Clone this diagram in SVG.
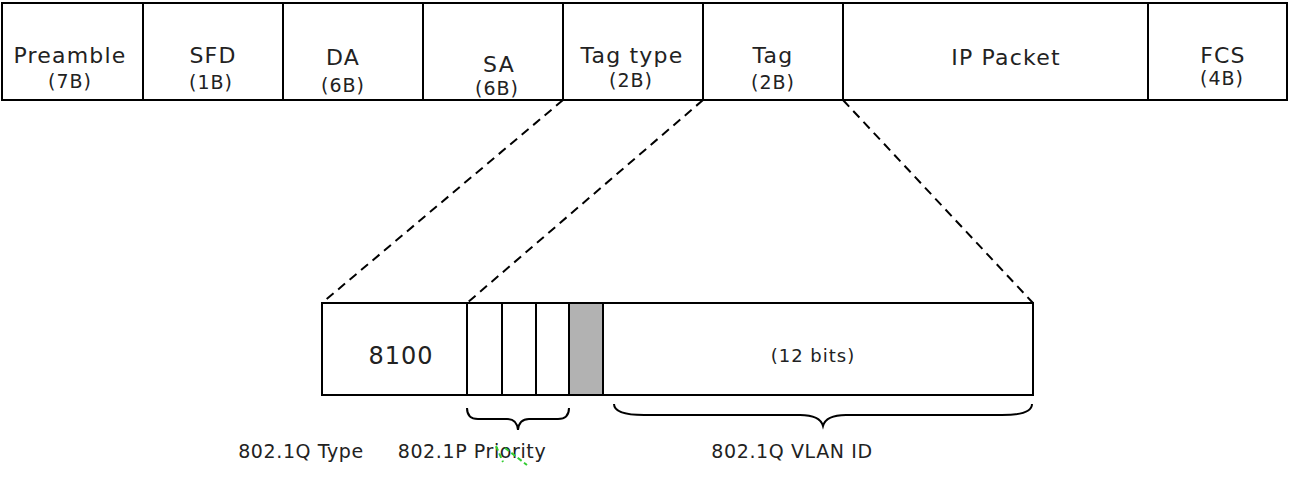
<svg xmlns="http://www.w3.org/2000/svg" width="1289" height="482" viewBox="0 0 1289 482">
  <style>
    .cell { fill: #ffffff; stroke: #000000; stroke-width: 2; }
    .bit { fill: #ffffff; stroke: #000000; stroke-width: 2; }
    .bit-gray { fill: #b2b2b2; stroke: #000000; stroke-width: 2; }
    .zoom { fill: none; stroke: #000000; stroke-width: 2; stroke-dasharray: 9 6; }
    .brace { fill: none; stroke: #000000; stroke-width: 2; }
    .t { font-family: "DejaVu Sans", "Liberation Sans", sans-serif; fill: #222222; text-anchor: middle; }
    .hd { font-size: 22px; letter-spacing: 1.2px; }
    .sz { font-size: 19px; letter-spacing: 1px; }
    .lbl { font-size: 19px; letter-spacing: 0.6px; }
  </style>

  <!-- Ethernet frame fields -->
  <g id="preamble">
    <rect class="cell" x="2" y="3" width="141" height="97"/>
    <text class="t hd" x="70" y="63">Preamble</text>
    <text class="t sz" x="70" y="88">(7B)</text>
  </g>
  <g id="sfd">
    <rect class="cell" x="143" y="3" width="140" height="97"/>
    <text class="t hd" x="213" y="63">SFD</text>
    <text class="t sz" x="211" y="89">(1B)</text>
  </g>
  <g id="da">
    <rect class="cell" x="283" y="3" width="140" height="97"/>
    <text class="t hd" x="343" y="65">DA</text>
    <text class="t sz" x="343" y="92">(6B)</text>
  </g>
  <g id="sa">
    <rect class="cell" x="423" y="3" width="140" height="97"/>
    <text class="t hd" x="499" y="72">SA</text>
    <text class="t sz" x="497" y="95">(6B)</text>
  </g>
  <g id="tag-type">
    <rect class="cell" x="563" y="3" width="140" height="97"/>
    <text class="t hd" x="632" y="63">Tag type</text>
    <text class="t sz" x="631" y="87">(2B)</text>
  </g>
  <g id="tag">
    <rect class="cell" x="703" y="3" width="140" height="97"/>
    <text class="t hd" x="773" y="63">Tag</text>
    <text class="t sz" x="773" y="89">(2B)</text>
  </g>
  <g id="ip-packet">
    <rect class="cell" x="843" y="3" width="305" height="97"/>
    <text class="t hd" x="1006" y="65">IP Packet</text>
  </g>
  <g id="fcs">
    <rect class="cell" x="1148" y="3" width="139" height="97"/>
    <text class="t hd" x="1223" y="63">FCS</text>
    <text class="t sz" x="1222" y="85">(4B)</text>
  </g>

  <!-- Expansion lines from the tag fields to the detail row -->
  <g id="connectors">
    <line class="zoom" x1="563" y1="100" x2="322" y2="303"/>
    <line class="zoom" x1="703" y1="100" x2="467" y2="303"/>
    <line class="zoom" x1="843" y1="100" x2="1033" y2="303"/>
  </g>

  <!-- 802.1Q tag detail -->
  <g id="tpid">
    <rect class="bit" x="322" y="303" width="145" height="92"/>
    <text class="t" x="401" y="364" style="font-size:24px;letter-spacing:1px">8100</text>
  </g>
  <g id="priority-bits">
    <rect class="bit" x="467" y="303" width="35" height="92"/>
    <rect class="bit" x="502" y="303" width="34" height="92"/>
    <rect class="bit" x="536" y="303" width="33" height="92"/>
  </g>
  <g id="cfi-bit">
    <rect class="bit-gray" x="569" y="303" width="34" height="92"/>
  </g>
  <g id="vlan-id">
    <rect class="bit" x="603" y="303" width="430" height="92"/>
    <text class="t" x="813" y="362" style="font-size:18px;letter-spacing:1px">(12 bits)</text>
  </g>

  <!-- Braces and field names -->
  <g id="priority-brace">
    <path class="brace" d="M467,408 Q467,419 478,419 L507,419 Q517,419 518,430 Q519,419 529,419 L558,419 Q569,419 569,408"/>
  </g>
  <g id="vlan-brace">
    <path class="brace" d="M614,404 Q614,415 644,415 L800,415 Q820,415 823,426 Q826,415 846,415 L1002,415 Q1032,415 1032,404"/>
  </g>
  <g id="labels">
    <text class="t lbl" x="301" y="458">802.1Q Type</text>
    <text class="t lbl" x="472" y="458">802.1P Priority</text>
    <text class="t lbl" x="792" y="458">802.1Q VLAN ID</text>
    <path d="M496,446 L503,462 M505,448 L527,465" fill="none" stroke="#33cc33" stroke-width="2" stroke-dasharray="5 3"/>
  </g>
</svg>
